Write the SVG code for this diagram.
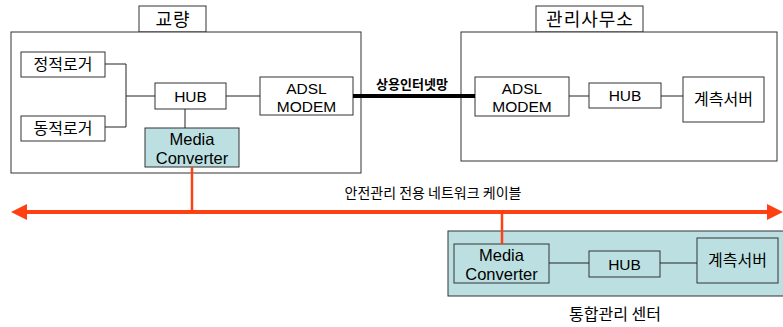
<svg xmlns="http://www.w3.org/2000/svg" width="783" height="327" viewBox="0 0 783 327">
<style>
.box{fill:#fff;stroke:#333;stroke-width:1}
.cyan{fill:#bce0e2;stroke:#333;stroke-width:1}
.ln{fill:none;stroke:#222;stroke-width:1}
.thick{fill:none;stroke:#000;stroke-width:4}
.red{fill:none;stroke:#ff4012;stroke-width:4}
.redf{fill:#ff4012}
text{font-family:"Liberation Sans","Noto Sans CJK KR",sans-serif;fill:#000;text-anchor:middle}
.en{font-size:15.5px}
.mc{font-size:16.5px}
.ko{font-family:"Noto Sans CJK KR","Liberation Sans",sans-serif;font-size:16px}
.tt{font-family:"Noto Sans CJK KR","Liberation Sans",sans-serif;font-size:18px;letter-spacing:1px}
.lb{font-family:"Noto Sans CJK KR","Liberation Sans",sans-serif;font-size:14px}
</style>
<rect width="783" height="327" fill="#fff"/>
<g id="bridge">
<rect class="box" x="139" y="6" width="67" height="26"/>
<text class="tt" x="173" y="26">교량</text>
<rect class="box" x="11" y="32" width="350" height="141"/>
</g>
<g id="static-logger"><rect class="box" x="21" y="52" width="84" height="25"/><text class="ko" x="63" y="70">정적로거</text></g>
<g id="dynamic-logger"><rect class="box" x="21" y="116" width="84" height="25"/><text class="ko" x="63" y="134">동적로거</text></g>
<g id="hub1"><rect class="box" x="155" y="83" width="71" height="26"/><text class="en" x="190.5" y="102">HUB</text></g>
<g id="adsl1"><rect class="box" x="260" y="77" width="93" height="38"/><text class="en" x="306.5" y="94">ADSL</text><text class="en" x="306.5" y="112">MODEM</text></g>
<g id="mc1"><rect class="cyan" x="145" y="128" width="94" height="39"/><text class="mc" x="192" y="145">Media</text><text class="mc" x="192" y="164">Converter</text></g>
<g id="office">
<rect class="box" x="536" y="6" width="107" height="26"/>
<text class="tt" x="590" y="26">관리사무소</text>
<rect class="box" x="461" y="32" width="316" height="129"/>
</g>
<g id="adsl2"><rect class="box" x="475" y="77" width="94" height="39"/><text class="en" x="522" y="94">ADSL</text><text class="en" x="522" y="112">MODEM</text></g>
<g id="hub2"><rect class="box" x="589" y="83" width="72" height="25"/><text class="en" x="625" y="101">HUB</text></g>
<g id="server2"><rect class="box" x="683" y="77" width="81" height="45"/><text class="ko" x="723.5" y="105">계측서버</text></g>
<g id="center">
<rect class="cyan" x="448" y="231" width="340" height="65"/>
<text class="ko" x="615" y="320">통합관리 센터</text>
</g>
<g id="mc3"><rect class="cyan" x="454" y="244" width="95" height="39"/><text class="mc" x="501.5" y="261">Media</text><text class="mc" x="501.5" y="280">Converter</text></g>
<g id="hub3"><rect class="cyan" x="589" y="251" width="71" height="26"/><text class="en" x="624.5" y="270">HUB</text></g>
<g id="server3"><rect class="cyan" x="697" y="238" width="81" height="45"/><text class="ko" x="737.5" y="266">계측서버</text></g>
<g id="connectors">
<polyline class="ln" points="105,64 126,64 126,127 105,127"/>
<line class="ln" x1="126" y1="96" x2="155" y2="96"/>
<line class="ln" x1="226" y1="96" x2="260" y2="96"/>
<line class="ln" x1="185" y1="109" x2="185" y2="128"/>
<line class="thick" x1="353" y1="96" x2="475" y2="96"/>
<text class="lb" x="412" y="89" font-weight="bold" style="font-size:13px">상용인터넷망</text>
<line class="ln" x1="569" y1="96" x2="589" y2="96"/>
<line class="ln" x1="661" y1="96" x2="683" y2="96"/>
<line class="ln" x1="549" y1="263" x2="589" y2="263"/>
<line class="ln" x1="660" y1="263" x2="697" y2="263"/>
<line class="red" x1="27" y1="212" x2="768" y2="212"/>
<polygon class="redf" points="11,212 27,204 27,220"/>
<polygon class="redf" points="783,212 767,204 767,220"/>
<line class="red" x1="192" y1="167" x2="192" y2="212" style="stroke-width:2.5"/>
<line class="red" x1="502" y1="212" x2="502" y2="244" style="stroke-width:2.5"/>
<text class="lb" x="433" y="198">안전관리 전용 네트워크 케이블</text>
</g>
</svg>
